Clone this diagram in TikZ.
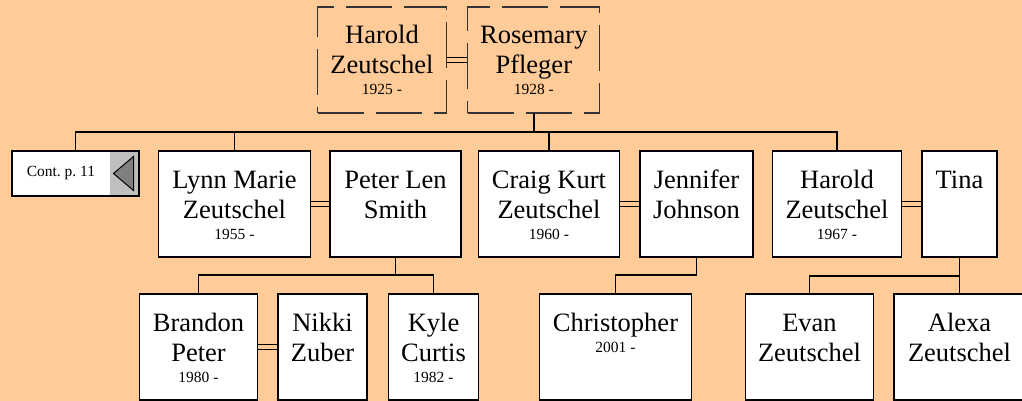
\documentclass[tikz,border=0pt]{standalone}
\usepackage{fontspec}
\setmainfont{Liberation Serif}
\usetikzlibrary{positioning,calc}
\definecolor{bgpeach}{HTML}{FFCC99}
\frenchspacing
\newcommand{\namefont}{\fontsize{26.5}{30}\selectfont}
\newcommand{\yearfont}{\fontsize{15.5}{18}\selectfont}
\newcommand{\born}[1]{\\[-9pt]{\yearfont #1 -}}
\tikzset{
	person/.style={
		rectangle,
		sharp corners,
		fill=white,
		draw=black, line width=1.5pt,
		inner sep=0pt,
		text width=#1,
		text height=37pt,
		text depth=69pt,
		align=flush center,
		font=\namefont},
	parent/.style={
		person=#1,
		fill=none,
		draw=black!80, line width=1.3pt,
		dash pattern=on 46pt off 12pt},
	contbox/.style={
		rectangle,
		fill=white,
		inner sep=0pt, outer sep=0pt,
		minimum width=98pt,
		minimum height=45pt,
		font=\yearfont},
	contarrow/.style={
		rectangle,
		fill=black!25,
		inner sep=0pt, outer sep=0pt,
		minimum width=29pt,
		minimum height=45pt},
	line/.style={draw=black, line width=1.5pt},
	marriage/.style={draw=black, line width=1.3pt, double=bgpeach, double distance=3.2pt}
}
\begin{document}
\begin{tikzpicture}[x=1pt, y=-1pt, node distance=18pt]
\path[use as bounding box, fill=bgpeach] (0,0) rectangle (1022,401);

\node[parent=129pt] (harold) at (382,60) {Harold\\Zeutschel\born{1925}};
\node[parent=132pt, right=20pt of harold] (rosemary) {Rosemary\\Pfleger\born{1928}};

\node[contbox, anchor=north west] (cont) at (12,151) {Cont. p. 11};
\node[contarrow, right=0pt of cont] (contarrow) {};
\draw[line] (cont.north west) rectangle (contarrow.south east);
\draw[fill=black!50, line width=1pt] ($(contarrow.center)+(-11,0)$) -- ($(contarrow.center)+(9,-17)$) -- ($(contarrow.center)+(9,17)$) -- cycle;
\coordinate (contup) at ($(cont.north west)!.5!(contarrow.north east)$);

\node[person=152pt] (lynn) at (234.5,204) {Lynn Marie\\Zeutschel\born{1955}};
\node[person=131pt, right=18pt of lynn] (peter) {Peter Len\\Smith};
\node[person=141pt] (craig) at (549,204) {Craig Kurt\\Zeutschel\born{1960}};
\node[person=113pt, right=19pt of craig] (jennifer) {Jennifer\\Johnson};
\node[person=129pt] (haroldjr) at (837,204) {Harold\\Zeutschel\born{1967}};
\node[person=75pt, right=19pt of haroldjr] (tina) {Tina};

\node[person=118pt] (brandon) at (198.5,347) {Brandon\\Peter\born{1980}};
\node[person=89pt, right=19pt of brandon] (nikki) {Nikki\\Zuber};
\node[person=90pt, right=20pt of nikki] (kyle) {Kyle\\Curtis\born{1982}};
\node[person=152pt] (christopher) at (615.5,347) {Christopher\born{2001}};
\node[person=128pt] (evan) at (809.5,347) {Evan\\Zeutschel};
\node[person=131pt, right=19pt of evan] (alexa) {Alexa\\Zeutschel};

\draw[marriage] (harold) -- (rosemary);
\draw[marriage] (lynn) -- (peter);
\draw[marriage] (craig) -- (jennifer);
\draw[marriage] (haroldjr) -- (tina);
\draw[marriage] (brandon) -- (nikki);

\coordinate (bus1) at (rosemary.south |- 0,132);
\draw[line] (rosemary.south) -- (bus1);
\draw[line] (contup) |- (bus1) -| (haroldjr.north);
\draw[line] (lynn.north) -- (lynn.north |- bus1);
\draw[line] (craig.north) -- (craig.north |- bus1);

\coordinate (bus2) at (peter.south |- 0,275);
\draw[line] (peter.south) -- (bus2);
\draw[line] (brandon.north) |- (bus2) -| (kyle.north);
\coordinate (bus3) at (jennifer.south |- 0,275);
\draw[line] (jennifer.south) -- (bus3) -| (christopher.north);
\coordinate (bus4) at (tina.south |- 0,276);
\draw[line] (tina.south) -- (alexa.north);
\draw[line] (evan.north) |- (bus4);
\end{tikzpicture}
\end{document}
